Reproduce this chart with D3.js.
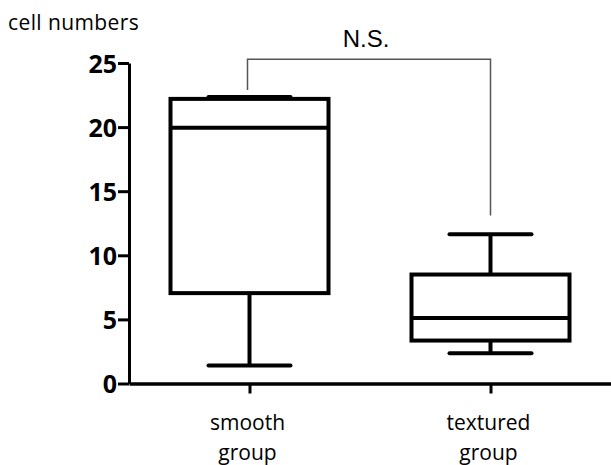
<!DOCTYPE html>
<html>
<head>
<meta charset="utf-8">
<script src="https://cdn.jsdelivr.net/npm/d3@7"></script>
<style>
  body { margin: 0; background: #fff; }
  svg text { fill: #000; }
</style>
</head>
<body>
<svg id="chart" width="611" height="465"></svg>
<script>
// box plot values
var groups = ["smooth", "textured"];
var groupLabels = [["smooth", "group"], ["textured", "group"]];
var whiskerLow = [1.4, 2.35];
var q1 = [7.05, 3.35];
var median = [19.95, 5.1];
var q3 = [22.2, 8.5];
var whiskerHigh = [22.35, 11.65];
var yTicks = [0, 5, 10, 15, 20, 25];
var yTitle = "cell numbers";
var sigLabel = "N.S.";
var bracketTop = 25.3;
var bracketEnds = [22.9, 13.1];

var svg = d3.select("svg#chart");

var x0 = 129, x1 = 611,
    yBottom = 383.5, yTop = 63;

var x = d3.scalePoint().domain(groups).range([x0, x1]).padding(0.5);
var y = d3.scaleLinear().domain([0, 25]).range([yBottom, yTop]);

var boxHalf = 79, capHalf = 41;

var boxes = groups.map(function(g, i) {
  return { g: g, lo: whiskerLow[i], q1: q1[i], med: median[i], q3: q3[i], hi: whiskerHigh[i] };
});

// y axis
var yAxis = svg.append("g")
    .attr("transform", "translate(" + x0 + ",0)")
    .call(d3.axisLeft(y).tickValues(yTicks).tickSize(11).tickPadding(1).tickSizeOuter(0));
yAxis.select(".domain").attr("stroke", "#000").attr("stroke-width", 3);
yAxis.selectAll(".tick line").attr("stroke", "#000").attr("stroke-width", 3);
yAxis.selectAll(".tick text")
    .attr("font-family", "Open Sans")
    .attr("font-weight", "bold")
    .attr("font-size", 25)
    .attr("dy", "0.36em");

// x axis
var xAxis = svg.append("g")
    .attr("transform", "translate(0," + yBottom + ")")
    .call(d3.axisBottom(x).tickSize(10).tickSizeOuter(0).tickFormat(""));
xAxis.select(".domain").attr("stroke", "#000").attr("stroke-width", 3.5);
xAxis.selectAll(".tick line").attr("stroke", "#000").attr("stroke-width", 3);

// two-line category labels
svg.selectAll("text.cat")
    .data(groups)
    .enter().append("text")
    .attr("class", "cat")
    .attr("text-anchor", "middle")
    .attr("font-family", "Open Sans")
    .attr("font-size", 21)
    .attr("x", function(d) { return x(d) - 2; })
    .attr("y", 430)
    .each(function(d, i) {
      var t = d3.select(this);
      groupLabels[i].forEach(function(s, k) {
        t.append("tspan").attr("x", x(d) - 2).attr("dy", k === 0 ? 0 : 30).text(s);
      });
    });

// y title
svg.append("text")
    .attr("x", 8)
    .attr("y", 30)
    .attr("font-family", "Open Sans")
    .attr("font-size", 21)
    .attr("letter-spacing", 0.4)
    .text(yTitle);

// boxes
var bg = svg.append("g").attr("class", "boxes")
    .selectAll("g").data(boxes).enter().append("g");

bg.append("line")
    .attr("x1", function(d) { return x(d.g); })
    .attr("x2", function(d) { return x(d.g); })
    .attr("y1", function(d) { return y(d.lo); })
    .attr("y2", function(d) { return y(d.q1); })
    .attr("stroke", "#000").attr("stroke-width", 4);

bg.append("line")
    .attr("x1", function(d) { return x(d.g); })
    .attr("x2", function(d) { return x(d.g); })
    .attr("y1", function(d) { return y(d.q3); })
    .attr("y2", function(d) { return y(d.hi); })
    .attr("stroke", "#000").attr("stroke-width", 4);

bg.selectAll("line.cap")
    .data(function(d) { return [{ g: d.g, v: d.lo }, { g: d.g, v: d.hi }]; })
    .enter().append("line")
    .attr("class", "cap")
    .attr("x1", function(d) { return x(d.g) - capHalf; })
    .attr("x2", function(d) { return x(d.g) + capHalf; })
    .attr("y1", function(d) { return y(d.v); })
    .attr("y2", function(d) { return y(d.v); })
    .attr("stroke", "#000").attr("stroke-width", 4).attr("stroke-linecap", "round");

bg.append("rect")
    .attr("x", function(d) { return x(d.g) - boxHalf; })
    .attr("width", boxHalf * 2)
    .attr("y", function(d) { return y(d.q3); })
    .attr("height", function(d) { return y(d.q1) - y(d.q3); })
    .attr("fill", "none").attr("stroke", "#000").attr("stroke-width", 4);

bg.append("line")
    .attr("x1", function(d) { return x(d.g) - boxHalf; })
    .attr("x2", function(d) { return x(d.g) + boxHalf; })
    .attr("y1", function(d) { return y(d.med); })
    .attr("y2", function(d) { return y(d.med); })
    .attr("stroke", "#000").attr("stroke-width", 4);

// significance bracket
var bx = groups.map(function(g) { return x(g) - 2; });
bx[1] = x(groups[1]);
svg.append("path")
    .attr("d", "M" + bx[0] + "," + y(bracketEnds[0]) +
               "V" + y(bracketTop) +
               "H" + bx[1] +
               "V" + y(bracketEnds[1]))
    .attr("fill", "none").attr("stroke", "#555").attr("stroke-width", 1.5);

svg.append("text")
    .attr("x", (bx[0] + bx[1]) / 2 - 3)
    .attr("y", 47)
    .attr("text-anchor", "middle")
    .attr("font-family", "Liberation Sans")
    .attr("font-size", 24)
    .text(sigLabel);
</script>
</body>
</html>
